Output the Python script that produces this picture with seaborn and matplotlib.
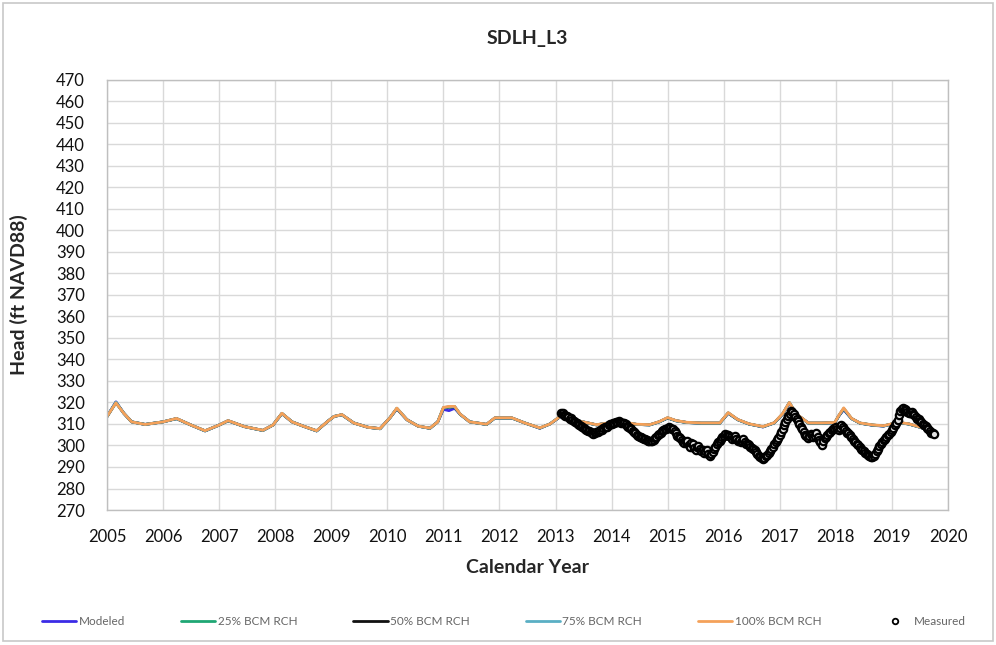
import numpy as np
import pandas as pd
import matplotlib
matplotlib.use("Agg")
import matplotlib.pyplot as plt
import seaborn as sns
from matplotlib.lines import Line2D
from matplotlib.patches import Rectangle

# ---- simulated heads (decimal year, ft NAVD88) ----
model_years = [2005.00, 2005.16, 2005.30, 2005.44, 2005.68, 2006.00, 2006.24, 2006.50,
               2006.75, 2007.00, 2007.16, 2007.45, 2007.78, 2007.96, 2008.12, 2008.30,
               2008.50, 2008.74, 2008.95, 2009.05, 2009.19, 2009.40, 2009.65, 2009.87,
               2010.05, 2010.17, 2010.35, 2010.55, 2010.76, 2010.90, 2011.00, 2011.10,
               2011.20, 2011.30, 2011.47, 2011.77, 2011.92, 2012.22, 2012.45, 2012.72,
               2012.90, 2013.08, 2013.25, 2013.40, 2013.73, 2013.95, 2014.15, 2014.45,
               2014.68, 2014.85, 2015.00, 2015.15, 2015.34, 2015.60, 2015.93, 2016.08,
               2016.25, 2016.45, 2016.70, 2016.90, 2017.05, 2017.17, 2017.30, 2017.51,
               2017.75, 2017.98, 2018.06, 2018.14, 2018.28, 2018.43, 2018.65, 2018.85,
               2019.00, 2019.11, 2019.30, 2019.50, 2019.74]

head_modeled = [313.5, 320.3, 315.0, 311.0, 309.8, 311.0, 312.5, 309.5,
                306.8, 309.5, 311.5, 308.8, 307.0, 309.5, 314.8, 311.0,
                309.0, 306.8, 311.5, 313.5, 314.3, 310.5, 308.5, 307.8,
                313.0, 317.0, 312.0, 309.0, 308.0, 311.0, 316.8, 316.2,
                317.3, 314.5, 311.0, 309.8, 312.8, 312.8, 310.5, 308.0,
                310.0, 313.3, 313.0, 311.5, 309.6, 310.5, 311.0, 309.8,
                309.6, 311.0, 312.8, 311.5, 310.7, 310.4, 310.4, 315.0,
                312.0, 310.0, 308.6, 310.5, 314.5, 319.6, 314.5, 310.4,
                310.4, 310.6, 314.0, 316.6, 312.5, 310.4, 309.4, 309.0,
                310.0, 310.7, 310.0, 308.5, 306.5]

head_25 = [313.4, 320.0, 315.0, 311.0, 309.8, 311.0, 312.5, 309.5,
           306.8, 309.5, 311.5, 308.8, 307.0, 309.5, 314.9, 311.0,
           309.0, 306.8, 311.5, 313.5, 314.3, 310.5, 308.5, 307.8,
           313.0, 317.2, 312.0, 309.0, 308.0, 311.0, 317.4, 317.8,
           318.0, 314.5, 311.0, 309.8, 312.8, 312.8, 310.5, 308.1,
           310.0, 313.4, 313.0, 311.5, 309.6, 310.5, 311.0, 309.8,
           309.6, 311.0, 312.8, 311.5, 310.7, 310.4, 310.4, 315.1,
           312.0, 310.0, 308.7, 310.5, 314.6, 319.8, 314.5, 310.4,
           310.4, 310.6, 314.1, 317.0, 312.5, 310.4, 309.5, 309.1,
           310.0, 310.7, 310.0, 308.5, 306.6]

head_50 = [313.4, 320.0, 315.0, 311.0, 309.8, 311.0, 312.5, 309.5,
           306.8, 309.5, 311.5, 308.8, 307.0, 309.5, 314.9, 311.0,
           309.0, 306.8, 311.5, 313.5, 314.3, 310.5, 308.5, 307.8,
           313.0, 317.2, 312.0, 309.0, 308.0, 311.0, 317.5, 317.9,
           318.0, 314.5, 311.0, 309.8, 312.8, 312.8, 310.5, 308.1,
           310.0, 313.4, 313.0, 311.5, 309.6, 310.5, 311.0, 309.8,
           309.6, 311.0, 312.8, 311.5, 310.7, 310.4, 310.4, 315.1,
           312.0, 310.0, 308.7, 310.5, 314.6, 319.9, 314.5, 310.4,
           310.4, 310.6, 314.1, 317.1, 312.5, 310.4, 309.5, 309.1,
           310.0, 310.7, 310.0, 308.5, 306.6]

head_75 = [313.5, 320.1, 315.0, 311.0, 309.8, 311.0, 312.5, 309.5,
           306.8, 309.5, 311.5, 308.8, 307.0, 309.5, 314.9, 311.0,
           309.0, 306.8, 311.5, 313.5, 314.3, 310.5, 308.5, 307.8,
           313.0, 317.3, 312.0, 309.0, 308.0, 311.0, 317.6, 318.0,
           318.1, 314.5, 311.0, 309.8, 312.8, 312.8, 310.5, 308.1,
           310.0, 313.5, 313.0, 311.5, 309.6, 310.5, 311.0, 309.8,
           309.6, 311.0, 312.9, 311.5, 310.7, 310.4, 310.4, 315.2,
           312.0, 310.0, 308.7, 310.5, 314.7, 320.0, 314.5, 310.4,
           310.4, 310.6, 314.2, 317.2, 312.5, 310.4, 309.5, 309.1,
           310.0, 310.7, 310.0, 308.5, 306.6]

head_100 = [313.5, 319.8, 315.0, 311.0, 309.8, 311.0, 312.6, 309.5,
            306.9, 309.5, 311.6, 308.8, 307.1, 309.5, 315.0, 311.0,
            309.0, 306.9, 311.5, 313.5, 314.4, 310.5, 308.5, 307.9,
            313.0, 317.4, 312.0, 309.0, 308.1, 311.0, 317.7, 318.2,
            318.2, 314.6, 311.0, 309.9, 312.9, 312.9, 310.5, 308.2,
            310.0, 313.5, 313.0, 311.5, 309.7, 310.5, 311.1, 309.9,
            309.7, 311.1, 313.0, 311.6, 310.8, 310.5, 310.5, 315.3,
            312.1, 310.1, 308.8, 310.6, 314.8, 320.0, 314.6, 310.5,
            310.5, 310.7, 314.3, 317.5, 312.6, 310.5, 309.6, 309.2,
            310.1, 310.8, 310.1, 308.6, 306.7]

# ---- observed heads, roughly every 9 days ----
meas_years = [round(2013.10 + 0.025 * i, 3) for i in range(267)]
head_measured = [
    315.0, 314.9, 314.2, 313.6, 313.8, 313.4, 312.5, 312.6, 312.0, 311.2,
    310.8, 310.6, 310.0, 309.7, 309.0, 308.4, 308.2, 307.9, 307.3, 306.9,
    306.6, 306.5, 306.0, 305.4, 305.8, 306.2, 306.3, 306.9, 307.2, 307.4,
    308.0, 308.5, 308.6, 308.8, 309.4, 309.9, 310.0, 310.4, 310.5, 310.9,
    310.8, 311.2, 311.0, 310.5, 310.6, 310.4, 309.8, 309.1, 308.8, 308.3,
    307.5, 306.6, 306.2, 305.8, 305.0, 304.3, 304.0, 303.9, 303.5, 303.0,
    302.8, 302.7, 302.3, 301.9, 302.0, 302.2, 302.5, 303.4, 304.0, 304.9,
    305.5, 306.0, 306.8, 307.1, 307.6, 307.9, 308.0, 308.4, 308.2, 307.9,
    307.6, 306.9, 306.0, 304.6, 303.8, 303.4, 302.5, 301.6, 301.0, 301.6,
    302.0, 300.4, 299.5, 301.2, 300.5, 299.0, 298.0, 299.2, 299.8, 298.6,
    297.5, 297.9, 296.5, 297.4, 298.0, 296.2, 295.0, 296.0, 297.0, 298.4,
    299.5, 300.6, 301.5, 302.3, 303.0, 303.9, 304.5, 305.2, 305.0, 304.8,
    304.2, 303.8, 303.0, 303.6, 304.5, 303.1, 302.0, 302.6, 301.5, 301.9,
    302.8, 301.6, 300.5, 300.6, 300.0, 299.4, 299.0, 298.6, 298.0, 297.0,
    296.0, 295.3, 294.5, 294.0, 293.5, 294.2, 295.0, 295.6, 296.5, 297.6,
    298.5, 299.4, 300.5, 301.5, 302.5, 303.6, 305.0, 306.3, 307.5, 309.4,
    311.0, 312.1, 313.5, 314.6, 316.0, 315.4, 314.5, 313.4, 312.5, 311.4,
    310.0, 308.7, 307.5, 306.1, 305.0, 304.4, 303.5, 304.2, 305.5, 304.9,
    304.0, 304.6, 306.0, 304.0, 302.5, 301.6, 300.0, 302.0, 303.5, 304.1,
    305.0, 305.7, 306.5, 307.1, 307.5, 308.0, 308.5, 307.6, 307.0, 308.3,
    309.5, 308.4, 307.5, 306.9, 306.0, 305.6, 305.0, 304.1, 303.0, 302.2,
    301.5, 300.8, 300.0, 299.2, 298.5, 298.1, 297.5, 296.7, 296.0, 295.4,
    295.0, 294.8, 294.5, 295.1, 296.0, 297.4, 298.5, 299.6, 300.5, 301.4,
    302.5, 303.2, 304.0, 304.9, 305.5, 306.2, 307.0, 308.2, 309.5, 310.6,
    312.0, 314.1, 316.0, 317.0, 317.5, 316.9, 316.5, 315.6, 315.0, 315.3,
    315.5, 314.8, 314.0, 313.2, 312.5, 312.1, 311.5, 310.8, 310.0, 309.6,
    309.0, 308.2, 307.5, 306.8, 306.0, 305.6, 305.5]

year_ticks = list(range(2005, 2021))
head_ticks = list(range(270, 480, 10))

series = [
    ("Modeled", head_modeled, "#3B2BE6"),
    ("25% BCM RCH", head_25, "#1FA774"),
    ("50% BCM RCH", head_50, "#111111"),
    ("75% BCM RCH", head_75, "#5AAFC4"),
    ("100% BCM RCH", head_100, "#F4A15A"),
]

sns.set_theme(style="white")
plt.rcParams["font.family"] = ["Lato", "DejaVu Sans"]

fig = plt.figure(figsize=(9.96, 6.45), dpi=100)
ax = fig.add_axes([0.1074, 0.2093, 0.8444, 0.6667])

grid_c = "#D9D9D9"
ax.set_xticks(year_ticks)
ax.set_yticks(head_ticks)
ax.grid(True, color=grid_c, linewidth=1.0)
ax.set_axisbelow(True)

for name, vals, col in series:
    df = pd.DataFrame({"year": model_years, "head": vals})
    sns.lineplot(data=df, x="year", y="head", ax=ax, color=col,
                 linewidth=2.0, label=name, legend=False)

mdf = pd.DataFrame({"year": meas_years, "head": head_measured})
sns.scatterplot(data=mdf, x="year", y="head", ax=ax, marker="o", s=28,
                facecolor="#E0E0E0", edgecolor="#000000", linewidth=1.6,
                zorder=5, legend=False)

ax.set_xlim(2005, 2020)
ax.set_ylim(270, 470)
for s in ax.spines.values():
    s.set_color("#BFBFBF")
    s.set_linewidth(1.0)
ax.tick_params(axis="both", length=0, labelsize=12, colors="#111111")
ax.tick_params(axis="y", pad=16)
ax.tick_params(axis="x", pad=14)

ax.set_xlabel("Calendar Year", fontsize=14, fontweight="bold", labelpad=10)
ax.set_ylabel("Head (ft NAVD88)", fontsize=14, fontweight="bold", labelpad=20)
ax.set_title("SDLH_L3", fontsize=14, fontweight="bold", pad=26)

handles = [Line2D([0], [0], color=c, lw=2) for _, _, c in series]
handles.append(Line2D([0], [0], ls="none", marker="o", markersize=4,
                      markerfacecolor="white", markeredgecolor="black",
                      markeredgewidth=1.3))
labels = [n for n, _, _ in series] + ["Measured"]
fig.legend(handles, labels, loc="center", bbox_to_anchor=(0.506, 0.037),
           ncol=6, frameon=False, fontsize=8.5, handlelength=2.9,
           handletextpad=0.2, columnspacing=4.75, labelcolor="#666666")

fig.add_artist(Rectangle((0.003, 0.006), 0.994, 0.99, transform=fig.transFigure,
                         fill=False, edgecolor="#C8C8C8", linewidth=1.2))

fig.savefig("out.png", dpi=100, facecolor="white")
